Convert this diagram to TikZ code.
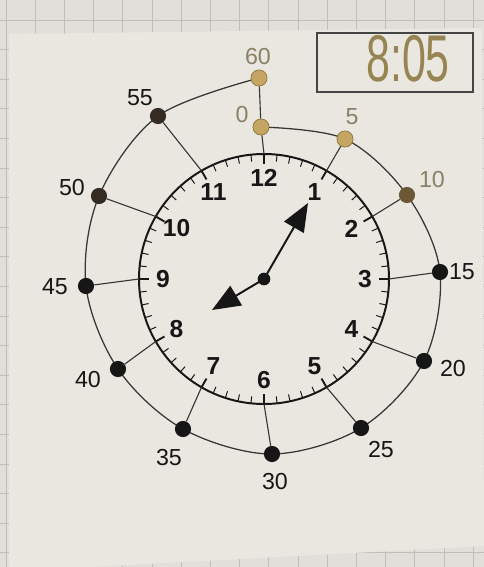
\documentclass[tikz,border=0pt]{standalone}
\usepackage{fontspec}
\setmainfont{Liberation Sans}
\usetikzlibrary{positioning,arrows.meta,calc}
\definecolor{ink}{RGB}{22,22,22}
\definecolor{ringc}{RGB}{55,55,55}
\definecolor{gridbg}{RGB}{225,223,218}
\definecolor{gridc}{RGB}{192,190,184}
\definecolor{cardc}{RGB}{234,231,224}
\definecolor{dotgold}{RGB}{196,166,98}
\definecolor{dotrim}{RGB}{140,115,62}
\definecolor{dotbrown}{RGB}{108,88,52}
\definecolor{dotdark}{RGB}{52,44,34}
\definecolor{fade}{RGB}{138,128,104}
\definecolor{lcdc}{RGB}{150,132,82}
\tikzset{
  clockdot/.style={circle, fill=ink, inner sep=0pt, minimum size=11.5pt},
  golddot/.style={clockdot, fill=dotgold, draw=dotrim, line width=0.5pt},
  minlabel/.style={font=\fontsize{16.5}{18}\selectfont, text=ink, inner sep=1pt},
  fadelabel/.style={minlabel, text=fade},
  hourlabel/.style={font=\fontsize{17.5}{19}\selectfont\bfseries, text=ink, inner sep=0pt},
  ring/.style={line width=0.9pt, draw=ringc},
  ray/.style={line width=0.8pt, draw=ringc},
  tick/.style={line width=0.7pt, draw=ink},
  hourtick/.style={line width=1.3pt, draw=ink},
  hand/.style={line width=1.4pt, draw=ink, -{Triangle[length=20pt, width=16pt]}},
  gridline/.style={draw=gridc, line width=0.6pt},
}

\begin{document}
\begin{tikzpicture}[x=0.025cm, y=-0.025cm]
  \useasboundingbox (0,0) rectangle (484,567);
  % grid paper and card
  \fill[gridbg] (0,0) rectangle (484,567);
  \foreach \i in {0,...,16}
    \draw[gridline] (6+29.2*\i,0) -- (6+29.2*\i,567);
  \foreach \j in {0,...,19}
    \draw[gridline] (0,-9.5+29.6*\j) -- (484,-9.5+29.6*\j);
  \fill[cardc] (9,34) -- (482,28) -- (484,546) -- (90,567) -- (9,567) -- cycle;

  % clock face
  \coordinate (C) at (264,279);
  \draw[line width=1.4pt, ink] (C) circle[radius=125];
  \foreach \m in {0,...,59}
    \draw[tick] ($(C)+(6*\m:125)$) -- ($(C)+(6*\m:118)$);
  \foreach \m in {0,5,...,55}
    \draw[hourtick] ($(C)+(6*\m:125)$) -- ($(C)+(6*\m:115)$);
  \foreach \h in {1,...,12}
    \node[hourlabel] (n\h) at ($(C)+(30*\h-90:101)$) {\h};

  % minute ring
  \coordinate (p0) at (261,127);
  \coordinate (p5) at (345,139);
  \coordinate (p10) at (407,195);
  \coordinate (p15) at (440,272);
  \coordinate (p20) at (424,361);
  \coordinate (p25) at (361,428);
  \coordinate (p30) at (272,454);
  \coordinate (p35) at (183,429);
  \coordinate (p40) at (118,369);
  \coordinate (p45) at (86,286);
  \coordinate (p50) at (99,196);
  \coordinate (p55) at (158,116);
  \coordinate (p60) at (259,78);
  \draw[ring] plot[smooth, tension=0.55] coordinates {(p0) (p5) (p10) (p15) (p20)
    (p25) (p30) (p35) (p40) (p45) (p50) (p55) (p60)};
  \foreach \m in {0,5,...,55}
    \coordinate (h\m) at ($(C)+(6*\m-90:125)$);

  \node[golddot] (d60) at (p60) {};
  \node[golddot] (d0) at (p0) {};
  \node[golddot] (d5) at (p5) {};
  \node[clockdot, fill=dotbrown] (d10) at (p10) {};
  \foreach \m in {15,20,...,45}
    \node[clockdot] (d\m) at (p\m) {};
  \node[clockdot, fill=dotdark] (d50) at (p50) {};
  \node[clockdot, fill=dotdark] (d55) at (p55) {};
  \foreach \m in {0,5,...,55}
    \draw[ray] (d\m) -- (h\m);
  \draw[ray] (d60) -- (d0);

  \node[fadelabel] (l60) at (258,57) {60};
  \node[fadelabel] (l0) at (242,115) {0};
  \node[fadelabel] (l5) at (352,117) {5};
  \node[fadelabel] (l10) at (432,180) {10};
  \node[minlabel] (l15) at (462,272) {15};
  \node[minlabel] (l20) at (453,369) {20};
  \node[minlabel] (l25) at (381,450) {25};
  \node[minlabel] (l30) at (275,482) {30};
  \node[minlabel] (l35) at (169,458) {35};
  \node[minlabel] (l40) at (88,380) {40};
  \node[minlabel] (l45) at (55,287) {45};
  \node[minlabel] (l50) at (72,188) {50};
  \node[minlabel] (l55) at (140,98) {55};

  % hands
  \coordinate (mtip) at (308,203);
  \coordinate (htip) at (212,310);
  \draw[hand] (C) -- (mtip);
  \draw[hand] (C) -- (htip);
  \node[circle, fill=ink, minimum size=9pt, inner sep=0pt] (hub) at (C) {};

  % digital display
  \node[draw=ink!80, line width=0.9pt, minimum width=3.9cm, minimum height=1.475cm,
    inner sep=0pt] (lcd) at (395,62.5) {};
  \node[text=lcdc, font=\fontsize{47}{47}\selectfont, inner sep=0pt] (time) at (408,59)
    {\scalebox{0.65}[1]{8:05}};
\end{tikzpicture}
\end{document}
